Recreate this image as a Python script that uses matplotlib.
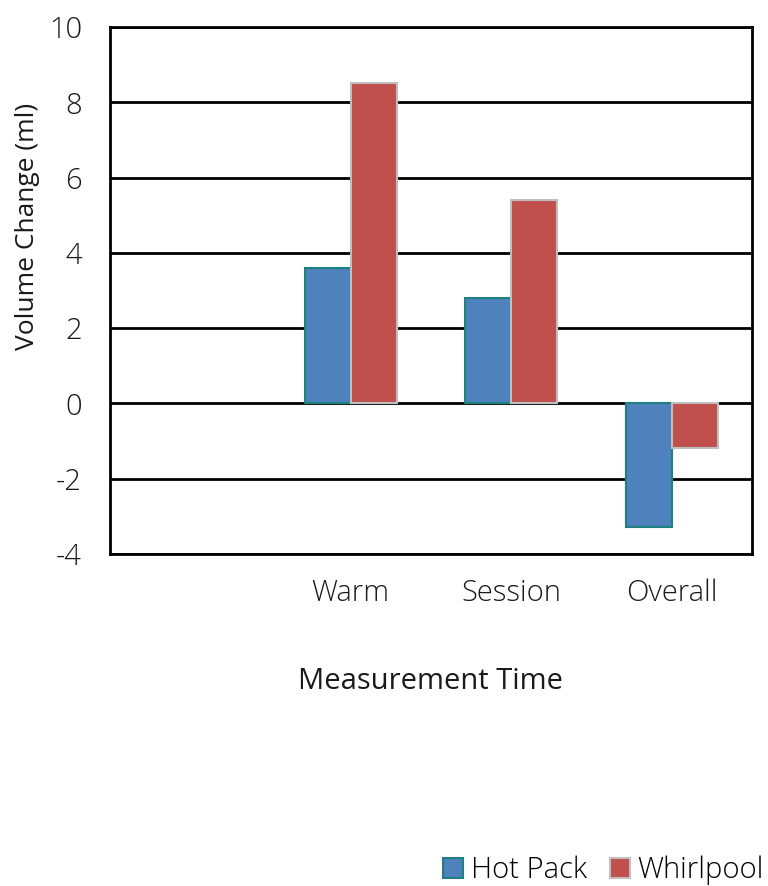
import matplotlib.pyplot as plt
import numpy as np

categories = ["", "Warm", "Session", "Overall"]
hot_pack = [np.nan, 3.6, 2.8, -3.3]
whirlpool = [np.nan, 8.5, 5.4, -1.2]

plt.rcParams['font.family'] = ['Open Sans', 'DejaVu Sans']
plt.rcParams['font.weight'] = 300
plt.rcParams['axes.unicode_minus'] = False

fig = plt.figure(figsize=(7.68, 8.86), dpi=100)
ax = fig.add_axes([0.143, 0.375, 0.836, 0.5945])

x = np.arange(len(categories))
w = 0.287
ax.bar(x - w / 2, hot_pack, w, color="#4f81bd", edgecolor="#1f8080",
       linewidth=1.5, label="Hot Pack", zorder=3)
ax.bar(x + w / 2, whirlpool, w, color="#c0504d", edgecolor="#bfbfbf",
       linewidth=1.5, label="Whirlpool", zorder=3)

ax.set_xlim(-0.5, 3.5)
ax.set_ylim(-4, 10)
ax.set_yticks(range(-4, 11, 2))
ax.set_xticks(x)
ax.set_xticklabels(categories)
ax.tick_params(length=0, labelsize=21, colors="#1a1a1a")
ax.tick_params(axis="y", pad=20)
ax.tick_params(axis="x", pad=18)
ax.yaxis.grid(True, color="black", linewidth=2, zorder=1)
for s in ax.spines.values():
    s.set_linewidth(2)
    s.set_color("black")

ax.set_ylabel("Volume Change (ml)", fontsize=19, color="#1a1a1a")
ax.yaxis.set_label_coords(-0.109, 0.622)
ax.set_xlabel("Measurement Time", fontsize=21, labelpad=42, color="#1a1a1a")

fig.legend(loc="lower right", bbox_to_anchor=(1.012, -0.014), ncol=2, frameon=False,
           fontsize=21, handlelength=0.7, handleheight=0.7, handletextpad=0.25,
           columnspacing=0.8, borderaxespad=0.05)

plt.savefig("out.png", dpi=100)
